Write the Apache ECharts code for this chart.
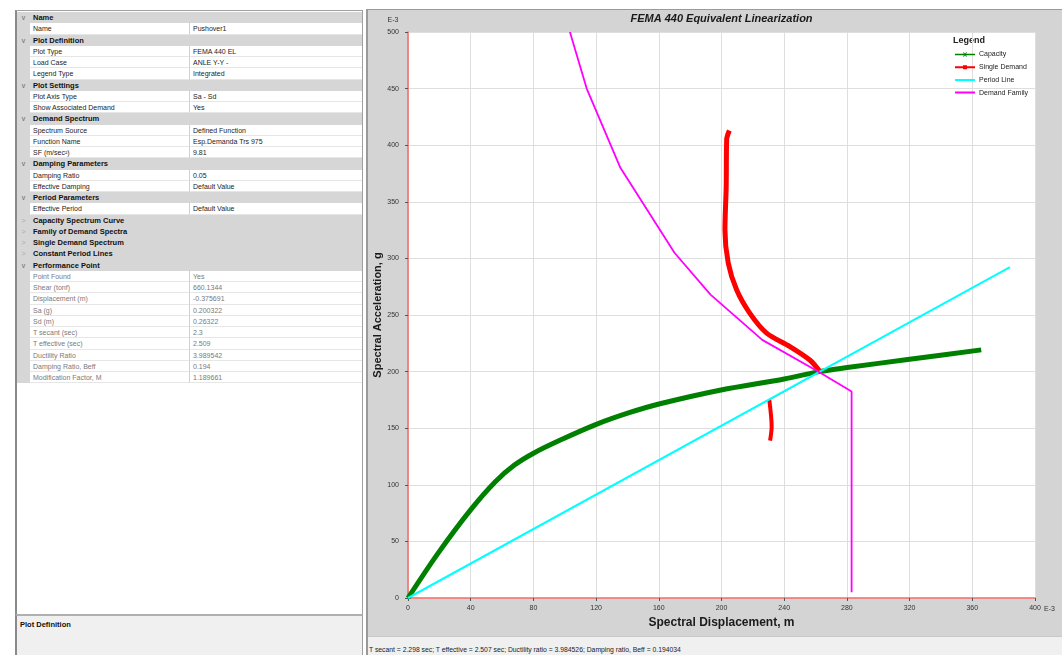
<!DOCTYPE html>
<html>
<head>
<meta charset="utf-8">
<script src="https://cdn.jsdelivr.net/npm/echarts@6/dist/echarts.min.js"></script>
<style>
  html, body { margin:0; padding:0; background:#fff; width:1062px; height:655px; overflow:hidden;
    font-family:'Liberation Sans', Arial, sans-serif; }
  #props { position:absolute; left:15px; top:10px; width:345px; height:604px; background:#fff;
    border-left:2px solid #8a8a8a; border-top:1px solid #a0a0a0; border-right:1px solid #a0a0a0; }
  .row { position:absolute; left:0; width:345px; height:11.25px; line-height:11.25px; font-size:7px; white-space:nowrap; }
  .hdr { background:#d6d6d6; font-weight:bold; font-size:7.5px; color:#111; }
  .gut { position:absolute; left:0; top:0; width:13px; height:100%; background:#d6d6d6; color:#777; text-align:center; font-size:7px; font-weight:normal; }
  .lbl { position:absolute; left:16px; top:0; }
  .cellA { position:absolute; left:13px; top:0; width:160px; height:100%; background:#fff; border-bottom:1px solid #e6e6e6; box-sizing:border-box; border-right:1px solid #d0d0d0; }
  .cellB { position:absolute; left:173px; top:0; width:172px; height:100%; background:#fff; border-bottom:1px solid #e6e6e6; box-sizing:border-box; }
  .t { position:absolute; left:3px; top:0; color:#1c1c1c; }
  .dis .t { color:#7a7a7a; }
  #desc { position:absolute; left:15px; top:614px; width:348px; height:41px; background:#f0f0f0;
    border-left:2px solid #8a8a8a; border-top:2px solid #b0b0b0; border-right:1px solid #a0a0a0; box-sizing:border-box; }
  #desc span { position:absolute; left:3px; top:4px; font-size:7.5px; font-weight:bold; color:#111; }
  #sep { position:absolute; left:366px; top:9px; width:2px; height:646px; background:#9a9a9a; }
  #chart { position:absolute; left:368px; top:10px; width:694px; height:626px; }
  #status { position:absolute; left:368px; top:636px; width:694px; height:19px; background:#f0f0f0; border-top:1px solid #c8c8c8; box-sizing:border-box; }
  #status span { position:absolute; left:1px; top:9px; font-size:6.8px; color:#222; white-space:nowrap; }
  #topline { position:absolute; left:366px; top:9px; width:696px; height:1px; background:#9a9a9a; }
</style>
</head>
<body>
<div id="props"></div>
<div id="desc"><span>Plot Definition</span></div>
<div id="sep"></div>
<div id="topline"></div>
<div id="chart"></div>
<div id="status"><span id="statusText"></span></div>
<script>
// ---------- property grid rows ----------
const propertyRows = [
  ['h','Name'], ['r','Name','Pushover1'],
  ['h','Plot Definition'], ['r','Plot Type','FEMA 440 EL'], ['r','Load Case','ANLE Y-Y -'], ['r','Legend Type','Integrated'],
  ['h','Plot Settings'], ['r','Plot Axis Type','Sa - Sd'], ['r','Show Associated Demand','Yes'],
  ['h','Demand Spectrum'], ['r','Spectrum Source','Defined Function'], ['r','Function Name','Esp.Demanda Trs 975'], ['r','SF (m/sec\u00B2)','9.81'],
  ['h','Damping Parameters'], ['r','Damping Ratio','0.05'], ['r','Effective Damping','Default Value'],
  ['h','Period Parameters'], ['r','Effective Period','Default Value'],
  ['c','Capacity Spectrum Curve'], ['c','Family of Demand Spectra'], ['c','Single Demand Spectrum'], ['c','Constant Period Lines'],
  ['h','Performance Point'],
  ['d','Point Found','Yes'], ['d','Shear (tonf)','660.1344'], ['d','Displacement (m)','-0.375691'], ['d','Sa (g)','0.200322'],
  ['d','Sd (m)','0.26322'], ['d','T secant (sec)','2.3'], ['d','T effective (sec)','2.509'], ['d','Ductility Ratio','3.989542'],
  ['d','Damping Ratio, Beff','0.194'], ['d','Modification Factor, M','1.189661']
];
const statusText = 'T secant = 2.298 sec;  T effective = 2.507 sec;  Ductility ratio = 3.984526;  Damping ratio, Beff = 0.194034';

// ---------- chart data (Sd in E-3 m, Sa in E-3 g) ----------
const xTicks = { min: 0, max: 400, step: 40 };
const yTicks = { min: 0, max: 500, step: 50 };
const capacity = [[0,0],[19,39.2],[39.8,77.6],[55.7,102.7],[67.9,117.4],[79.8,127.7],[97.2,139.5],[120.1,153.4],
  [141.1,163.7],[160.1,171.4],[199.7,183.8],[240,193.5],[262.4,200],[280.2,203.6],[320,210.9],[365.7,219.2]];
const singleDemandUpper = [[205,413],[203.3,405],[203,363.6],[202.2,325],[204.3,296],[209.7,272],[218,251.7],
  [228.8,234],[243.7,222],[256.5,210],[262.8,200]];
const singleDemandLink = [[262.8,200],[230.5,175]];
const singleDemandLower = [[230.5,175],[232,151.5],[231,139]];
const periodLine = [[0,0],[384,292.3]];
const demandFamily = [[103.3,500],[114,450],[135.5,380],[170,305],[193,268],[226,228],[263,199],[283,182.5],[283,5]];

// ---------- build property grid ----------
(function(){
  const host = document.getElementById('props');
  const H = 11.25;
  propertyRows.forEach((r, i) => {
    const d = document.createElement('div');
    d.style.top = (1 + i * H) + 'px';
    if (r[0] === 'h' || r[0] === 'c') {
      d.className = 'row hdr';
      d.innerHTML = '<div class="gut" style="color:' + (r[0]==='h' ? '#666' : '#aaa') + '">' + (r[0]==='h' ? 'v' : '&gt;') + '</div><div class="lbl">' + r[1] + '</div>';
    } else {
      d.className = 'row' + (r[0] === 'd' ? ' dis' : '');
      d.innerHTML = '<div class="gut"></div><div class="cellA"><span class="t">' + r[1] + '</span></div><div class="cellB"><span class="t">' + r[2] + '</span></div>';
    }
    host.appendChild(d);
  });
  document.getElementById('statusText').textContent = statusText;
})();

// ---------- chart ----------
const chart = echarts.init(document.getElementById('chart'), null, { renderer: 'canvas' });
const corners = 'M0,0L0.05,0L0,0.05Z M20,6L19.95,6L20,5.95Z ';
const iconCapacity = 'path://' + corners + 'M0,2.2L20,2.2L20,3.8L0,3.8Z M8,0.8L8.8,0.8L10,2.2L11.2,0.8L12,0.8L10.6,3L12,5.2L11.2,5.2L10,3.8L8.8,5.2L8,5.2L9.4,3Z';
const iconSingle = 'path://' + corners + 'M0,2L20,2L20,4L0,4Z M8,1L12,1L12,5L8,5Z';
const iconLine = 'path://' + corners + 'M0,2L20,2L20,4L0,4Z';
const FONT = "'Liberation Sans', Arial, sans-serif";

chart.setOption({
  backgroundColor: '#d4d4d4',
  animation: false,
  grid: { left: 40, top: 22, width: 627, height: 566, show: true, backgroundColor: '#ffffff', borderWidth: 0,
    containLabel: false, outerBoundsMode: 'none' },
  graphic: [
    { type: 'text', style: { text: 'FEMA 440 Equivalent Linearization', x: 353.5, y: 9,
      align: 'center', verticalAlign: 'middle', font: 'italic bold 11px ' + FONT, fill: '#1a1a1a' } },
    { type: 'text', style: { text: 'E-3', x: 25, y: 10, align: 'center', verticalAlign: 'middle', font: '7px ' + FONT, fill: '#333' } },
    { type: 'text', style: { text: 'E-3', x: 676, y: 599, align: 'left', verticalAlign: 'middle', font: '7px ' + FONT, fill: '#333' } },
    { type: 'text', style: { text: 'Legend', x: 585, y: 31, align: 'left', verticalAlign: 'middle', font: 'bold 9px ' + FONT, fill: '#222' } }
  ],
  legend: {
    orient: 'vertical', left: 587, top: 40, padding: 0, itemWidth: 20, itemHeight: 6, itemGap: 3.7,
    textStyle: { fontSize: 7, lineHeight: 9, color: '#222', fontFamily: FONT, padding: [0,0,0,-1] },
    data: [
      { name: 'Capacity', icon: iconCapacity },
      { name: 'Single Demand', icon: iconSingle },
      { name: 'Period Line', icon: iconLine },
      { name: 'Demand Family', icon: iconLine }
    ]
  },
  xAxis: {
    type: 'value', min: xTicks.min, max: xTicks.max, interval: xTicks.step,
    name: 'Spectral Displacement, m', nameLocation: 'middle', nameGap: 19, nameMoveOverlap: false,
    nameTextStyle: { fontSize: 12, fontWeight: 'bold', color: '#1a1a1a', fontFamily: FONT },
    axisLine: { show: true, lineStyle: { color: '#f46a6a', width: 1.5 } },
    axisTick: { show: true, length: 3, lineStyle: { color: '#555' } },
    axisLabel: { fontSize: 7, color: '#333', margin: 7, fontFamily: FONT },
    splitLine: { show: true, lineStyle: { color: '#dedede', width: 1 } }
  },
  yAxis: {
    type: 'value', min: yTicks.min, max: yTicks.max, interval: yTicks.step,
    name: 'Spectral Acceleration, g', nameLocation: 'middle', nameRotate: 90, nameGap: 25, nameMoveOverlap: false,
    nameTextStyle: { fontSize: 11, fontWeight: 'bold', color: '#1a1a1a', fontFamily: FONT },
    axisLine: { show: true, lineStyle: { color: '#f46a6a', width: 1.5 } },
    axisTick: { show: true, length: 3, lineStyle: { color: '#555' } },
    axisLabel: { fontSize: 7, color: '#333', margin: 9, fontFamily: FONT },
    splitLine: { show: true, lineStyle: { color: '#dedede', width: 1 } }
  },
  series: [
    { name: 'Capacity', type: 'line', data: capacity, symbol: 'none', smooth: 0.3,
      itemStyle: { color: '#008000' }, lineStyle: { color: '#008000', width: 5 }, z: 3 },
    { name: 'Single Demand', type: 'line', data: singleDemandUpper, symbol: 'none', smooth: 0.3,
      itemStyle: { color: '#ff0000' }, lineStyle: { color: '#ff0000', width: 5 }, z: 4 },
    { name: 'Single Demand', type: 'line', data: singleDemandLink, symbol: 'none',
      itemStyle: { color: '#ff0000' }, lineStyle: { color: '#ff0000', width: 1 }, z: 4 },
    { name: 'Single Demand', type: 'line', data: singleDemandLower, symbol: 'none', smooth: 0.3,
      itemStyle: { color: '#ff0000' }, lineStyle: { color: '#ff0000', width: 4 }, z: 4 },
    { name: 'Period Line', type: 'line', data: periodLine, symbol: 'none',
      itemStyle: { color: '#00ffff' }, lineStyle: { color: '#00ffff', width: 2 }, z: 5 },
    { name: 'Demand Family', type: 'line', data: demandFamily, symbol: 'none',
      itemStyle: { color: '#ff00ff' }, lineStyle: { color: '#ff00ff', width: 1.8 }, z: 5 }
  ]
});
</script>
</body>
</html>
